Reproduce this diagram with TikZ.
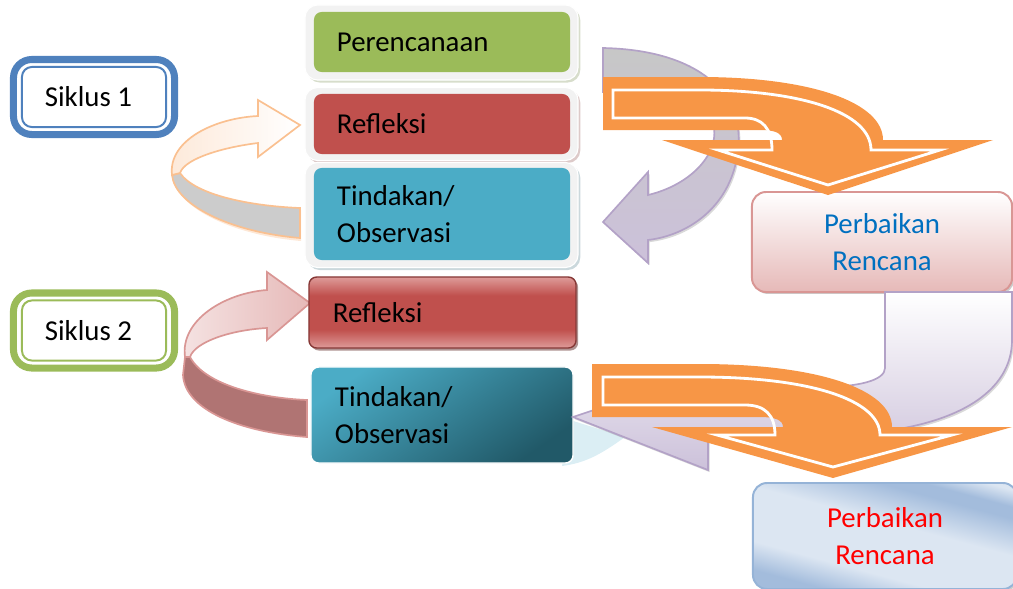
\documentclass[tikz,border=0pt]{standalone}
\usepackage{fontspec}
\setmainfont{Carlito}
\usepackage{tikz}
\usetikzlibrary{positioning, calc, shadows, backgrounds}
\definecolor{boxgreen}{HTML}{9BBB59}
\definecolor{boxred}{HTML}{C0504D}
\definecolor{boxredlight}{HTML}{DE9B99}
\definecolor{boxaqua}{HTML}{4BACC6}
\definecolor{boxaquadark}{HTML}{215968}
\definecolor{boxblue}{HTML}{4F81BD}
\definecolor{framegray}{HTML}{F2F2F2}
\definecolor{arroworange}{HTML}{F79646}
\definecolor{lavender}{HTML}{CCC1DA}
\definecolor{lavenderline}{HTML}{B3A2C7}
\definecolor{pinkline}{HTML}{D99694}
\definecolor{pinkfill}{HTML}{E6B9B8}
\definecolor{pinkband}{HTML}{B07473}
\definecolor{peachline}{HTML}{FAC090}
\definecolor{peachfill}{HTML}{FDE9D9}
\definecolor{textblue}{HTML}{0070C0}
\definecolor{textred}{HTML}{FF0000}
\definecolor{paleaqua}{HTML}{DBEEF4}
\definecolor{lightblue}{HTML}{DCE6F2}
\definecolor{midblue}{HTML}{A3BCDC}
\definecolor{blueline}{HTML}{95B3D7}
\pgfdeclareverticalshading{reflred}{100bp}{color(0bp)=(boxredlight); color(25bp)=(boxredlight);
    color(38bp)=(boxred); color(62bp)=(boxred); color(75bp)=(boxredlight); color(100bp)=(boxredlight)}
\pgfdeclareverticalshading{fixblue}{100bp}{color(0bp)=(midblue); color(26bp)=(midblue);
    color(36bp)=(lightblue); color(55bp)=(lightblue); color(68bp)=(midblue); color(72bp)=(midblue);
    color(78bp)=(lightblue); color(100bp)=(lightblue)}
\tikzset{
    every node/.style={font=\fontsize{20.5}{26}\selectfont},
    stepframe/.style={fill=framegray, draw=white, line width=0.8pt, rounded corners=9pt,
        minimum width=6.825cm, drop shadow={shadow xshift=1.6pt, shadow yshift=-1.8pt, fill=#1}},
    stepbox/.style={rounded corners=5.5pt, align=left, text width=5.25cm, inner xsep=0.575cm,
        minimum height=1.5cm},
    cyclebox/.style={draw=#1, line width=5pt, rounded corners=13pt, minimum height=1.875cm,
        minimum width=4.025cm},
    cycleline/.style={draw=#1, line width=1.4pt, rounded corners=7pt},
    fixbox/.style={rounded corners=10pt, line width=1.4pt, minimum width=6.5cm, minimum height=2.5cm,
        align=center, drop shadow={shadow xshift=1.4pt, shadow yshift=-1.4pt, opacity=0.4}},
    bentarrow/.style={fill=arroworange},
    bentline/.style={draw=white, line width=2pt, line join=miter}
}
\begin{document}
\begin{tikzpicture}[x=0.025cm, y=-0.025cm]
    \useasboundingbox (0,0) rectangle (1013,588);

    \node[cyclebox=boxblue] (siklus1) at (94,97) {\hspace*{-0.28cm}Siklus 1};
    \draw[cycleline=boxblue] ([shift={(12,11)}]siklus1.north west) rectangle ([shift={(-12,-11)}]siklus1.south east);
    \node[cyclebox=boxgreen] (siklus2) at (94,330.5) {\hspace*{-0.28cm}Siklus 2};
    \draw[cycleline=boxgreen] ([shift={(12,11)}]siklus2.north west) rectangle ([shift={(-12,-11)}]siklus2.south east);

    \path[fill=peachline!60, opacity=0.6] (181,175) .. controls (196,197) and (251,208) .. (301,210) -- (301,241) .. controls (231,235) and (176,207) .. (173,177) -- cycle;
    \path[draw=peachline, line width=1.2pt, fill=black!20] (180,173) .. controls (195,195) and (250,206) .. (300,208) -- (300,238) .. controls (230,232) and (175,205) .. (172,175) -- cycle;
    \path[draw=peachline, line width=1.2pt, left color=peachfill, right color=white] (172,175) .. controls (168,140) and (215,118) .. (258,116) -- (258,100) -- (300,125) -- (258,157) -- (258,143) .. controls (225,147) and (185,158) .. (180,173) -- cycle;

    \path[draw=pinkline, line width=1.2pt, fill=pinkband] (190,357) .. controls (205,385) and (260,398) .. (307,400) -- (307,437) .. controls (240,432) and (185,410) .. (183,375) -- (185,357) -- cycle;
    \path[draw=pinkline, line width=1.2pt, left color=pinkfill!40, right color=pinkfill] (185,357) .. controls (180,320) and (225,293) .. (267,290) -- (267,272) -- (310,303) -- (267,340) -- (267,328) .. controls (230,330) and (195,342) .. (190,357) -- cycle;

    \node[stepframe=boxgreen!50!gray!70, minimum height=1.875cm] (fplan) at (441.5,42.5) {};
    \node[stepbox, fill=boxgreen] (plan) at (442,42) {Perencanaan};
    \node[stepframe=boxred!50!gray!70, minimum height=1.825cm] (fref1) at (441.5,124) {};
    \node[stepbox, fill=boxred] (ref1) at (442,124) {Refleksi};
    \node[stepframe=boxaqua!40!gray!70, minimum height=2.625cm] (fact1) at (441.5,215) {};
    \node[stepbox, fill=boxaqua, minimum height=2.3cm] (act1) at (442,214) {Tindakan/\\Observasi};

    \node[stepbox, text width=5.475cm, inner xsep=0.6cm, minimum height=1.775cm, draw=boxred!70!black, line width=1pt,
        shading=reflred, drop shadow={shadow xshift=1.5pt, shadow yshift=-1.8pt, fill=boxred!50!black}] (ref2) at (442.5,312.5) {Refleksi};

    \path[fill=paleaqua] (570,420) -- (625,437) .. controls (600,455) and (585,463) .. (562,466) -- cycle;
    \node[stepbox, text width=5.35cm, inner xsep=0.6cm, minimum height=2.4cm, draw=white, line width=1pt,
        top color=boxaqua, bottom color=boxaquadark, shading angle=35] (act2) at (442,415) {Tindakan/\\Observasi};

    \path[draw=lavenderline, line width=1.2pt, top color=black!22, middle color=white, bottom color=lavender,
        drop shadow={shadow xshift=1.2pt, shadow yshift=-1.5pt, opacity=0.3}]
        (603,48) .. controls (700,50) and (745,95) .. (738,150) .. controls (732,205) and (690,235) .. (648,240)
        -- (648,263) -- (603,222) -- (648,172) -- (648,195) .. controls (690,185) and (718,155) .. (714,128)
        .. controls (708,100) and (670,92) .. (603,92) -- cycle;

    \node[fixbox, draw=pinkline, top color=white, bottom color=pinkfill, text=textblue] (fix1) at (882,242) {Perbaikan\\Rencana};

    \path[draw=lavenderline, line width=1.2pt, top color=white, bottom color=lavender,
        drop shadow={shadow xshift=1.2pt, shadow yshift=-1.5pt, opacity=0.3}]
        (885,292) -- (885,368) .. controls (885,380) and (860,387) .. (820,387) -- (708,387) -- (708,372)
        -- (573,417) -- (708,470) -- (708,438) -- (840,435) .. controls (960,430) and (1012,390) .. (1012,340)
        -- (1012,292) -- cycle;

    \path[bentarrow] (603,77) -- (700,77) .. controls (810,77) and (883,102) .. (883,140) -- (993,140) -- (828,195)
        -- (662,140) -- (782,140) .. controls (782,133) and (775,130) .. (760,130) -- (603,130) -- cycle;
    \draw[bentline] (613,90) -- (700,90) .. controls (800,90) and (871,112) .. (871,150) -- (940,150) -- (828,185)
        -- (718,150) -- (772,150) .. controls (772,128) and (762,118) .. (745,118) -- (613,118) -- cycle;

    \node[fixbox, draw=blueline, shading=fixblue, shading angle=-15,
        text=textred, minimum width=6.6cm, minimum height=2.65cm] (fix2) at (885,536) {Perbaikan\\Rencana};

    \path[bentarrow] (592,364) -- (700,364) .. controls (820,364) and (892,390) .. (892,427) -- (1012,427) -- (833,478)
        -- (652,427) -- (783,427) .. controls (783,420) and (775,417) .. (760,417) -- (592,417) -- cycle;
    \draw[bentline] (603,377) -- (700,377) .. controls (810,377) and (880,400) .. (880,435) -- (952,435) -- (833,467)
        -- (717,435) -- (775,435) .. controls (775,415) and (765,405) .. (745,405) -- (603,405) -- cycle;
\end{tikzpicture}
\end{document}
